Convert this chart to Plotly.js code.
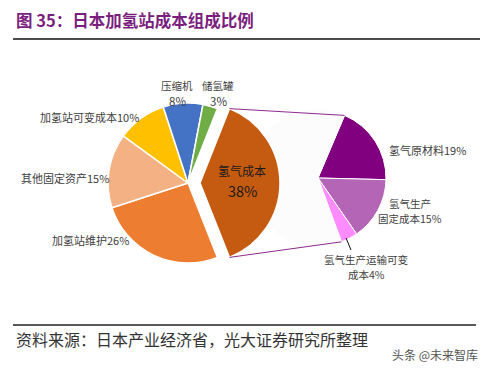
<!DOCTYPE html>
<html><head><meta charset="utf-8">
<script src="https://cdn.plot.ly/plotly-3.0.1.min.js"></script>
<style>html,body{margin:0;padding:0;background:#fff}#c{width:492px;height:371px}</style>
</head><body><div id="c"></div><script>
// ---- data ----
const mainLabels = ['氢气成本','加氢站维护','其他固定资产','加氢站可变成本','压缩机','储氢罐'];
const mainValues = [38,26,15,10,8,3];
const subLabels = ['氢气原材料','氢气生产固定成本','氢气生产运输可变成本'];
const subValues = [19,15,4];
const titleText = '图 35：日本加氢站成本组成比例';
const sourceText = '资料来源：日本产业经济省，光大证券研究所整理';
const watermark = '头条 @未来智库';

// ---- geometry / style ----
const W=492,H=371;
const px=x=>x/W, py=y=>1-y/H;
const L={cx:188,cy:183,r:80,pull:0.15};
const R={cx:318,cy:178,r:68};
const total = mainValues.reduce((a,b)=>a+b,0);
const splitVal = mainValues[0];
const mainRot = 90 - splitVal/total*360/2;
const subRot = 23;
const subSum = subValues.reduce((a,b)=>a+b,0);
const blank = total - subSum;
const deg = Math.PI/180;

const mainColors = ['#C55A11','#ED7D31','#F4B183','#FFC000','#4472C4','#70AD47'];
const subColors = ['#800080','#B565B5','#FF8CFF','#FCFCFC'];
const LB = L.r*(1+L.pull);

const traces = [
 {type:'pie', values:subValues.concat([blank]), labels:subLabels.concat(['其余']), sort:false, direction:'clockwise',
  rotation:subRot,
  marker:{colors:subColors, line:{color:['#ffffff','#ffffff','#ffffff','#FCFCFC'],width:1}},
  textinfo:'none', hoverinfo:'none', showlegend:false,
  domain:{x:[px(R.cx-R.r),px(R.cx+R.r)], y:[py(R.cy+R.r),py(R.cy-R.r)]}},
 {type:'pie', values:mainValues, labels:mainLabels, sort:false, direction:'clockwise',
  rotation:mainRot, pull:mainValues.map((v,i)=>i===0?L.pull:0),
  marker:{colors:mainColors, line:{color:'#ffffff',width:1.5}},
  textinfo:'none', hoverinfo:'none', showlegend:false,
  domain:{x:[px(L.cx-LB),px(L.cx+LB)], y:[py(L.cy+LB),py(L.cy-LB)]}}
];

// connector lines computed from the data angles
const a1 = mainRot*deg, a2 = (mainRot + splitVal/total*360)*deg, am=(a1+a2)/2;
const off = [L.pull*L.r*Math.sin(am), -L.pull*L.r*Math.cos(am)];
const mTop = [L.cx+L.r*Math.sin(a1)+off[0], L.cy-L.r*Math.cos(a1)+off[1]];
const mBot = [L.cx+L.r*Math.sin(a2)+off[0], L.cy-L.r*Math.cos(a2)+off[1]];
const b1 = subRot*deg, b2 = (subRot + subSum/total*360)*deg;
const sTop = [R.cx+R.r*Math.sin(b1), R.cy-R.r*Math.cos(b1)];
const sBot = [R.cx+R.r*Math.sin(b2), R.cy-R.r*Math.cos(b2)];

const ln=(x0,y0,x1,y1,color,width)=>({type:'line',xref:'paper',yref:'paper',x0:px(x0),y0:py(y0),x1:px(x1),y1:py(y1),line:{color,width}});
const shapes = [
 ln(13,39,480,39,'#111',1.5),
 ln(13,325,476,325,'#222',1.5),
 ln(mTop[0],mTop[1],sTop[0],sTop[1],'#8E2A8E',1),
 ln(mBot[0],mBot[1],sBot[0],sBot[1],'#8E2A8E',1),
 ln(346,238,351,250,'#111',1)
];

const F='Noto Sans CJK SC, sans-serif';
const TC='#404040';
const ann=(text,x,y,xa,size,color)=>({text,x:px(x),y:py(y),xref:'paper',yref:'paper',xanchor:xa||'center',yanchor:'middle',showarrow:false,font:{family:F,size:size||11,color:color||TC},align:'center'});
const pct=v=>v+'%';
const annotations = [
 ann('<b>'+titleText+'</b>',14,20,'left',16.5,'#7B1F7E'),
 ann(mainLabels[4],177,85,'center',10.5), ann(pct(mainValues[4]),177,101,'center',11.5),
 ann(mainLabels[5],218,85,'center',10.5), ann(pct(mainValues[5]),218,101,'center',11.5),
 ann(mainLabels[3]+pct(mainValues[3]),141,117,'right'),
 ann(mainLabels[2]+pct(mainValues[2]),111,178,'right'),
 ann(mainLabels[1]+pct(mainValues[1]),131,240,'right'),
 ann(mainLabels[0],242,171,'center',12,'#1a1a1a'),
 ann(pct(mainValues[0]),242,190,'center',14.5,'#1a1a1a'),
 ann(subLabels[0]+pct(subValues[0]),387,150,'left'),
 ann(subLabels[1].slice(0,4),410,203,'center',10.5), ann(subLabels[1].slice(4)+pct(subValues[1]),410,218,'center',10.5),
 ann(subLabels[2].slice(0,8),366,259,'center',10.5), ann(subLabels[2].slice(8)+pct(subValues[2]),366,274,'center',10.5),
 ann(sourceText,14,339,'left',16,'#333'),
 ann(watermark,480,354,'right',12,'#555')
];

Plotly.newPlot('c',traces,{width:W,height:H,margin:{l:0,r:0,t:0,b:0},paper_bgcolor:'#fff',plot_bgcolor:'#fff',shapes,annotations},{staticPlot:true});
</script></body></html>
